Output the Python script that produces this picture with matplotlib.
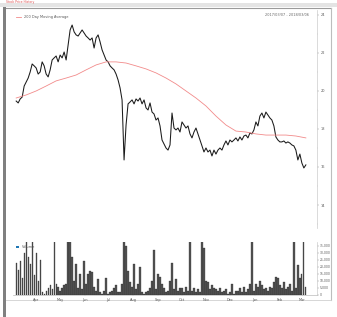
import pandas as pd
import matplotlib
matplotlib.use("Agg")
import matplotlib.pyplot as plt
import matplotlib.dates as mdates
from matplotlib.ticker import FuncFormatter, MultipleLocator

# closing price (roughly every 2-3 days)
price = [19.47, 19.37, 19.58, 19.68, 20.26, 20.47, 20.68, 21.00, 21.42, 21.32,
         21.21, 20.89, 21.00, 21.53, 21.32, 20.89, 20.74, 21.11, 21.63, 21.74,
         21.84, 21.53, 21.89, 21.74, 22.05, 21.63, 22.42, 23.21, 23.47, 23.11,
         22.95, 22.89, 23.05, 23.21, 23.05, 22.89, 22.79, 22.68, 22.79, 22.26,
         22.79, 22.95, 22.58, 22.16, 21.89, 21.63, 21.53, 21.32, 21.21, 21.11,
         20.89, 20.58, 20.16, 19.53, 16.37, 18.21, 19.32, 19.42, 19.53, 19.32,
         19.58, 19.47, 19.63, 19.32, 19.53, 19.11, 19.00, 19.37, 18.89, 18.79,
         18.47, 18.58, 18.16, 17.42, 17.21, 17.00, 16.89, 17.16, 18.84, 18.05,
         17.95, 18.05, 17.84, 18.37, 18.21, 18.05, 18.16, 17.74, 17.53, 17.84,
         18.05, 17.74, 17.42, 17.11, 16.79, 17.00, 16.79, 16.89, 16.58, 16.89,
         16.68, 16.89, 17.00, 16.89, 17.16, 17.37, 17.16, 17.42, 17.32, 17.42,
         17.53, 17.37, 17.58, 17.42, 17.63, 17.68, 17.53, 17.79, 17.74, 17.95,
         18.37, 18.16, 18.68, 18.84, 18.58, 18.89, 18.74, 18.58, 18.47, 18.16,
         17.58, 17.42, 17.32, 17.32, 17.37, 17.26, 17.32, 17.26, 17.16, 17.11,
         16.89, 16.37, 16.68, 16.21, 15.95, 16.11]

# 200 day moving average
ma200 = [19.63, 19.79, 20.00, 20.26, 20.53, 20.68, 20.84, 21.11, 21.37, 21.53,
         21.53, 21.47, 21.32, 21.16, 20.95, 20.68, 20.37, 20.00, 19.63, 19.21,
         18.68, 18.21, 17.89, 17.84, 17.74, 17.68, 17.68, 17.68, 17.63, 17.53]

volume = [23000, 18000, 24000, 12000, 30000, 38000, 27000, 22000, 38000, 14000,
          30000, 10000, 25000, 2000, 1000, 3000, 5000, 7000, 4000, 40000,
          8000, 6000, 3000, 5000, 7000, 8000, 40000, 40000, 27000, 10000,
          22000, 5000, 15000, 4000, 24000, 8000, 15000, 17000, 16000, 6000,
          3000, 11000, 2000, 1000, 3000, 12000, 1000, 2000, 3000, 5000,
          7000, 2000, 2000, 8000, 40000, 35000, 17000, 9000, 6000, 22000,
          4000, 8000, 20000, 2000, 1000, 2000, 3000, 5000, 10000, 32000,
          4000, 15000, 13000, 8000, 5000, 2000, 3000, 10000, 23000, 4000,
          11000, 3000, 5000, 5000, 2000, 6000, 3000, 40000, 3000, 5000,
          2000, 4000, 2000, 40000, 33000, 10000, 9000, 4000, 7000, 5000,
          4000, 3000, 5000, 2000, 3000, 4000, 1000, 2000, 8000, 1000,
          3000, 3000, 5000, 2000, 6000, 2000, 4000, 8000, 40000, 3000,
          8000, 6000, 10000, 7000, 4000, 5000, 3000, 6000, 5000, 9000,
          13000, 12000, 7000, 5000, 9000, 4000, 6000, 8000, 3000, 40000,
          5000, 21000, 12000, 15000, 40000, 6000]

start, end = "2017-03-07", "2018-03-06"
price_dates = pd.date_range(start, end, periods=len(price))
ma_dates = pd.date_range(start, end, periods=len(ma200))

W, H = 337, 317
fig = plt.figure(figsize=(W / 100, H / 100), dpi=100)

# page frame (background axes in pixel units)
bg = fig.add_axes([0, 0, 1, 1])
bg.set_xlim(0, W)
bg.set_ylim(H, 0)
bg.axis("off")
bg.add_patch(plt.Rectangle((0, 2.5), W, 4, color="#e4e4e4", lw=0))
bg.add_patch(plt.Rectangle((3, 7), 3, H - 7, color="#808080", lw=0))
bg.plot([6, 331], [8, 8], color="#9a9a9a", lw=0.8)
bg.plot([330.5, 330.5], [8, 300], color="#bdbdbd", lw=0.8)
bg.plot([6, 331], [300, 300], color="#d0d0d0", lw=0.6)
bg.text(6, 0.4, "Stock Price History", color="#e05050", fontsize=2.2, va="top")

xmin = pd.Timestamp("2017-03-03")
xmax = pd.Timestamp("2018-03-20")

def px_axes(l, t, r, b):
    return fig.add_axes([l / W, 1 - b / H, (r - l) / W, (b - t) / H])

# price panel
ax1 = px_axes(13, 10, 317, 228)
ax1.plot(price_dates, price, color="#1a1a1a", lw=0.75)
ax1.plot(ma_dates, ma200, color="#f28b8b", lw=0.6)
ax1.set_xlim(xmin, xmax)
ax1.set_ylim(12.79, 24.26)
for s in ["left", "top", "bottom"]:
    ax1.spines[s].set_visible(False)
ax1.spines["right"].set_color("#cccccc")
ax1.spines["right"].set_linewidth(0.5)
ax1.yaxis.tick_right()
ax1.yaxis.set_major_locator(MultipleLocator(2))
ax1.yaxis.set_minor_locator(MultipleLocator(1))
ax1.tick_params(axis="y", which="major", labelsize=2.5, length=1.5, width=0.3,
                color="#888888", labelcolor="#555555", pad=1)
ax1.tick_params(axis="y", which="minor", length=0.8, width=0.3, color="#aaaaaa")
ax1.set_xticks([])
ax1.plot([], [], color="#f28b8b", lw=0.6, label="200 Day Moving Average")
ax1.legend(loc="upper left", fontsize=2.5, frameon=False, handlelength=1.5,
           bbox_to_anchor=(0.0, 0.99), labelcolor="#555555")
ax1.text(0.975, 0.985, "2017/03/07 - 2018/03/06", transform=ax1.transAxes,
         fontsize=2.5, color="#666666", ha="right", va="top")

# volume panel
ax2 = px_axes(13, 242, 317, 295)
ax2.bar(price_dates, volume, width=1.6, color="#555555", edgecolor="#222222",
        linewidth=0.2)
ax2.set_xlim(xmin, xmax)
ax2.set_ylim(0, 37600)
ax2.spines["left"].set_visible(False)
ax2.spines["top"].set_visible(False)
ax2.spines["right"].set_color("#cccccc")
ax2.spines["right"].set_linewidth(0.5)
ax2.spines["bottom"].set_color("#bbbbbb")
ax2.spines["bottom"].set_linewidth(0.5)
ax2.yaxis.tick_right()
ax2.yaxis.set_major_locator(MultipleLocator(5000))
ax2.yaxis.set_major_formatter(FuncFormatter(lambda v, p: f"{int(v):,}"))
ax2.tick_params(axis="y", labelsize=2.2, length=1.2, width=0.3, color="#888888",
                labelcolor="#555555", pad=1)
ax2.xaxis.set_major_locator(mdates.MonthLocator())
ax2.xaxis.set_major_formatter(mdates.DateFormatter("%b"))
ax2.tick_params(axis="x", labelsize=2.5, length=1, width=0.3, color="#888888",
                labelcolor="#555555", pad=1)
ax2.bar([], [], color="#333333", label="Volume")
ax2.legend(loc="upper left", fontsize=2.5, frameon=False, handlelength=0.8,
           handleheight=0.8, bbox_to_anchor=(0.0, 1.0), labelcolor="#555555")

fig.savefig("out.png", dpi=100)
